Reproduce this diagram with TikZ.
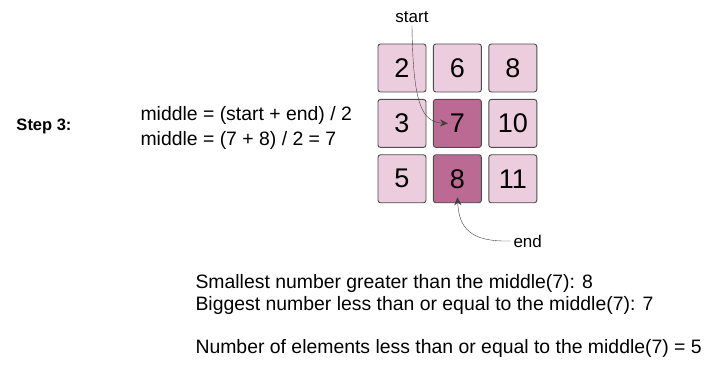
\documentclass[tikz,border=0pt]{standalone}
\usepackage{fontspec}
\setmainfont{Liberation Sans}
\usetikzlibrary{positioning, arrows.meta, calc}
\tikzset{>={Stealth[length=8pt, width=7pt]}}
\definecolor{cellpink}{RGB}{236,205,221}
\definecolor{cellmauve}{RGB}{187,106,148}

\begin{document}
\begin{tikzpicture}[x=1pt, y=-1pt, node distance=6.5pt, every node/.style={font=\fontsize{19.4}{22}\selectfont},
  cell/.style={draw=black!70, line width=0.9pt, fill=cellpink, rounded corners=2.5pt, minimum size=48pt, inner sep=0pt, font=\fontsize{27}{27}\selectfont},
  hot/.style={cell, fill=cellmauve},
  lbl/.style={font=\fontsize{17}{20}\selectfont}]
\useasboundingbox (0,0) rectangle (720,374);
\node[font=\fontsize{16.5}{20}\selectfont\bfseries] (step) at (44,126) {Step 3:};
\node[anchor=west] (formula) at (137,115) {middle = (start + end) / 2};
\node[anchor=west] (formula2) at (137,140) {middle = (7 + 8) / 2 = 7};
% grid
\node[cell] (c2) at (402,68) {2};
\node[cell, right=of c2] (c6) {6};
\node[cell, right=of c6] (c8) {8};
\node[cell, below=of c2] (c3) {3};
\node[hot, right=of c3] (c7) {7};
\node[cell, right=of c7] (c10) {10};
\node[cell, below=of c3] (c5) {5};
\node[hot, right=of c5] (c8b) {8};
\node[cell, right=of c8b] (c11) {11};
\node[lbl] (start) at (412,17) {start};
\node[lbl, anchor=west] (end) at (510,241) {end};
\draw[->, black!75, thin] (start.south) .. controls (413,105) and (422,122) .. ([xshift=15pt]c7.west);
\draw[->, black!75, thin] (end.west) .. controls (470,242) and (459,228) .. ([yshift=6pt]c8b.south);
% results
\node[anchor=west] (res) at (192,283) {Smallest number greater than the middle(7): 8};
\node[anchor=west] (res2) at (192,305) {Biggest number less than or equal to the middle(7): 7};
\node[anchor=west] (count) at (192,348) {Number of elements less than or equal to the middle(7) = 5};
\end{tikzpicture}
\end{document}
